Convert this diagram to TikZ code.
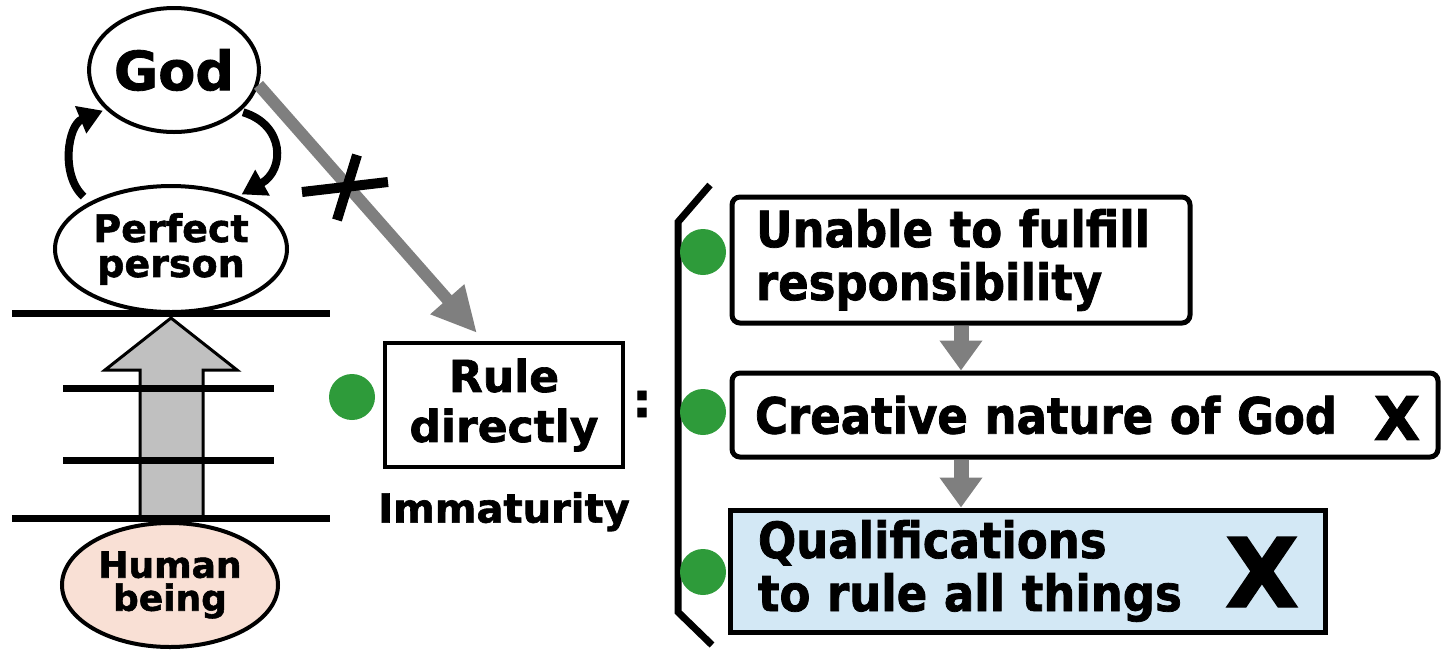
\documentclass[tikz,border=0pt]{standalone}
\usepackage{fontspec}
\setmainfont[BoldFeatures={FakeBold=1.5}]{DejaVu Sans}
\newfontfamily\condfont[FakeStretch=0.9, BoldFeatures={FakeBold=1.5}]{DejaVu Sans}
\usepackage{xcolor}
\usepackage{tikz}
\usetikzlibrary{shapes.geometric}
\usetikzlibrary{arrows.meta}
\usetikzlibrary{positioning}

\definecolor{dotgreen}{HTML}{2E9B3A}
\definecolor{arrowgray}{HTML}{7F7F7F}
\definecolor{upgray}{HTML}{C0C0C0}
\definecolor{skin}{HTML}{F9E0D5}
\definecolor{paleblue}{HTML}{D3E8F5}

\begin{document}
\begin{tikzpicture}[x=1pt, y=-1pt,
  % ellipses of the ladder on the left
  oval/.style={ellipse, draw=black, line width=4pt, fill=white, inner sep=0pt, align=center},
  % boxes of the list on the right
  listbox/.style={rectangle, draw=black, line width=5pt, fill=white, inner ysep=0pt, align=left,
    font=\condfont\bfseries\fontsize{50}{53}\selectfont},
  % green bullets
  dot/.style={circle, fill=dotgreen, minimum size=46pt, inner sep=0pt},
  % thick black round arrows
  curl/.style={line width=8pt, -{Triangle[length=24pt, width=28pt]}},
  % gray arrows
  grayarrow/.style={draw=arrowgray, line width=12pt, -{Triangle[length=45pt, width=42pt]}},
  downarrow/.style={draw=arrowgray, line width=15pt, -{Triangle[length=30pt, width=41pt]}},
  bar/.style={line width=7pt},
  cross/.style={inner sep=0pt, font=\bfseries}
]
\useasboundingbox (0,0) rectangle (1441,649);

% block arrow growing upward
\draw[line width=3pt, fill=upgray] (140,518) -- (140,370) -- (105,370) -- (171,318)
  -- (237,370) -- (203,370) -- (203,518) -- cycle;

% the three ellipses
\node[oval, minimum width=164pt, minimum height=124pt, font=\bfseries\fontsize{54}{60}\selectfont] (god) at (174,70) {God};
\node[oval, minimum width=232pt, minimum height=126pt, font=\bfseries\fontsize{38}{35}\selectfont] (perfect) at (171,249) {Perfect\\person};
\node[oval, fill=skin, minimum width=216pt, minimum height=124pt, font=\bfseries\fontsize{36}{33}\selectfont] (human) at (170,585) {Human\\being};

% growth stages
\draw[bar] (12,313) -- (330,313);
\draw[bar] (63,388) -- (274,388);
\draw[bar] (63,460) -- (274,460);
\draw[bar] (12,518) -- (330,518);

% give and take between God and the perfect person
\draw[curl, shorten <=8pt, shorten >=3pt] (perfect.150) .. controls (60,175) and (68,125) .. (god.-150);
\draw[curl, shorten <=3pt, shorten >=3pt] (god.-32) .. controls (285,125) and (285,170) .. (perfect.38);

% direct rule, crossed out
\node[rectangle, draw=black, line width=4pt, minimum width=238pt, minimum height=124pt, inner sep=0pt,
  align=center, font=\bfseries\fontsize{44}{50}\selectfont] (rule) at (504,405) {Rule\\directly};
\node[below=23pt of rule, inner sep=0pt, font=\bfseries\fontsize{40}{44}\selectfont] (immature) {Immaturity};
\coordinate (ruletip) at (477,333);
\draw[grayarrow] (god.-10) -- (ruletip);
\draw[line width=10pt] (302,192) -- (388,182);
\draw[line width=10pt] (357,155) -- (337,220);
\node[inner sep=0pt, font=\bfseries\fontsize{48}{50}\selectfont] (colon) at (642,404) {:};

% the list of reasons
\draw[bar] (710,185) -- (678,222) -- (678,612) -- (712,645);
\node[listbox, rounded corners=8pt, text width=410pt, inner xsep=24pt, minimum height=126pt] (resp) at (961,260)
  {Unable to fulfill\\responsibility};
\node[listbox, rounded corners=8pt, text width=660pt, inner xsep=23pt, minimum height=84pt] (creative) at (1085,415)
  {Creative nature of God};
\node[listbox, fill=paleblue, text width=539pt, inner xsep=28pt, minimum height=122pt] (qualify) at (1027.5,571)
  {Qualifications\\to rule all things};
\node[cross, font=\bfseries\fontsize{60}{60}\selectfont] (nocreate) at (1397,418) {X};
\node[cross, font=\bfseries\fontsize{96}{96}\selectfont] (norule) at (1262,572) {X};

\draw[downarrow] (resp.south) -- (resp.south |- creative.north);
\draw[downarrow] (resp.south |- creative.south) -- (resp.south |- qualify.north);

% bullets
\node[dot] (dot0) at (352,397) {};
\node[dot] (dot1) at (703,252) {};
\node[dot] (dot2) at (703,412) {};
\node[dot] (dot3) at (703,572) {};

\end{tikzpicture}
\end{document}
